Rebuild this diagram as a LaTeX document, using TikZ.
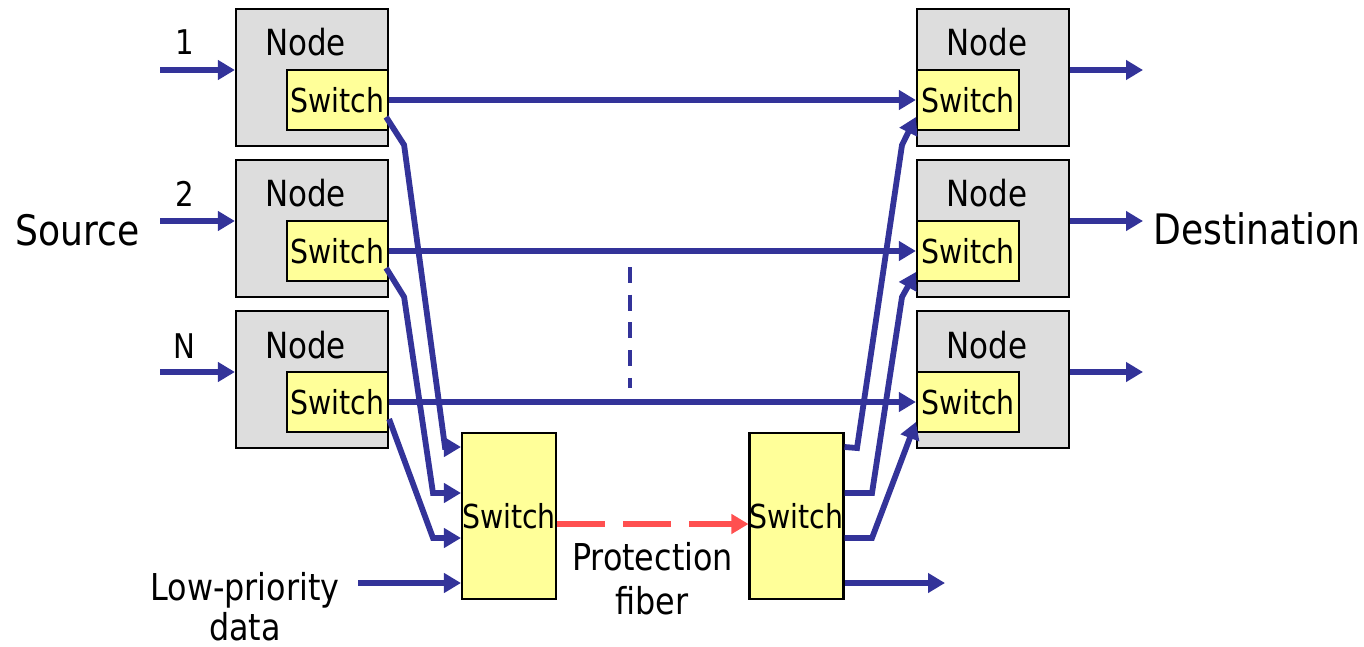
\documentclass[tikz,border=0pt]{standalone}
\usepackage{fontspec}
\setmainfont{DejaVu Sans}[FakeStretch=0.86]
\usetikzlibrary{arrows.meta}
\definecolor{linkblue}{HTML}{333399}
\definecolor{fibred}{HTML}{FF5050}
\definecolor{nodegray}{HTML}{DDDDDD}
\definecolor{swyellow}{HTML}{FFFF99}
\tikzset{
  nodebox/.style={draw=black, line width=2.2pt, fill=nodegray, inner sep=0pt, minimum width=152pt, minimum height=137pt},
  swsmall/.style={draw=black, line width=2.2pt, fill=swyellow, inner sep=0pt, minimum height=60pt,
     font=\fontsize{33}{38}\selectfont},
  swbig/.style={draw=black, line width=2.2pt, fill=swyellow, inner sep=0pt, minimum width=92pt, minimum height=166pt,
     font=\fontsize{33}{38}\selectfont},
  nodelabel/.style={anchor=base, inner sep=0pt, font=\fontsize{36}{40}\selectfont},
  txt/.style={anchor=base, inner sep=0pt, font=\fontsize{37}{42}\selectfont},
  bigtxt/.style={anchor=base, inner sep=0pt, font=\fontsize{42}{48}\selectfont},
  numtxt/.style={anchor=base, inner sep=0pt, font=\fontsize{34}{40}\selectfont},
  link/.style={draw=linkblue, line width=5.8pt, -{Triangle[length=17pt,width=19pt]}},
  fibre/.style={draw=fibred, line width=5.8pt, dash pattern=on 48pt off 18pt, -{Triangle[length=17pt,width=19pt]}},
}
\begin{document}
\begin{tikzpicture}[x=1pt, y=-1pt]
\useasboundingbox (0,0) rectangle (1364,647);

% levels used by the connectors
\coordinate (yA) at (0,447);
\coordinate (yB) at (0,493);
\coordinate (yC) at (0,538);
\coordinate (yD) at (0,583);
\coordinate (yF) at (0,524);

% source-side and destination-side nodes
\foreach \i/\y in {1/77.5, 2/228.5, 3/379.5} {
  \node[nodebox] (LN\i) at (312,\y) {};
  \node[swsmall, minimum width=101pt] (LS\i) at (337.5,\y+22.5) {Switch};
  \node[nodelabel] (LT\i) at (305.5,\y-21.5) {Node};
  \node[nodebox] (RN\i) at (993,\y) {};
  \node[swsmall, minimum width=102pt] (RS\i) at (968,\y+22.5) {Switch};
  \node[nodelabel] (RT\i) at (987,\y-21.5) {Node};
}

% protection switches
\node[swbig] (BL) at (509,516) {Switch};
\node[swbig, minimum width=91pt] (BR) at (796.5,516) {Switch};

% texts
\node[numtxt] (n1) at (184.5,55) {1};
\node[numtxt] (n2) at (184.5,206) {2};
\node[numtxt] (n3) at (184.5,358) {N};
\node[bigtxt] (src) at (77.5,245) {Source};
\node[bigtxt] (dst) at (1257,244) {Destination};
\node[txt] (lp1) at (245,600) {Low-priority};
\node[txt] (lp2) at (245,640) {data};
\node[txt] (pf1) at (652.5,570) {Protection};
\node[txt] (pf2) at (652,614) {fiber};

% inputs and outputs
\coordinate (in1) at (160,70);
\coordinate (in2) at (160,221);
\coordinate (in3) at (160,372);
\coordinate (out1) at (1143,70);
\coordinate (out2) at (1143,221);
\coordinate (out3) at (1143,372);
\foreach \i in {1,2,3} {
  \draw[link] (in\i) -- (in\i -| LN\i.west);
  \draw[link] (out\i -| RN\i.east) -- (out\i);
  \draw[link] (LS\i.east) -- (RS\i.west);
}

% working fibres into the protection switch
\draw[link] ([shift={(-3,17)}]LS1.east) -- ++(18,28) -- (445,447) -- (BL.west |- yA);
\draw[link] ([shift={(-3,17)}]LS2.east) -- ++(18,29) -- (433,493) -- (BL.west |- yB);
\draw[link] ([shift={(0,17)}]LS3.east) -- (433,538) -- (BL.west |- yC);
\coordinate (lowin) at (358,583);
\draw[link] (lowin) -- (BL.west |- yD);

% outputs of the far-end protection switch
\draw[link] (BR.east |- yA) -- (857,448) -- (902,145) -- ([shift={(0,17)}]RS1.west);
\draw[link] (BR.east |- yB) -- (872,493) -- (902,297) -- ([shift={(0,21)}]RS2.west);
\draw[link] (BR.east |- yC) -- (872,538) -- ([shift={(0,20)}]RS3.west);
\coordinate (lowout) at (945,583);
\draw[link] (BR.east |- yD) -- (lowout);

% protection fibre
\draw[fibre] (BL.east |- yF) -- (BR.west |- yF);

% further nodes between 2 and N
\coordinate (dotA) at (630,267);
\coordinate (dotB) at (630,388);
\draw[draw=linkblue, line width=4pt, dash pattern=on 16pt off 11.7pt] (dotA) -- (dotB);
\end{tikzpicture}
\end{document}
